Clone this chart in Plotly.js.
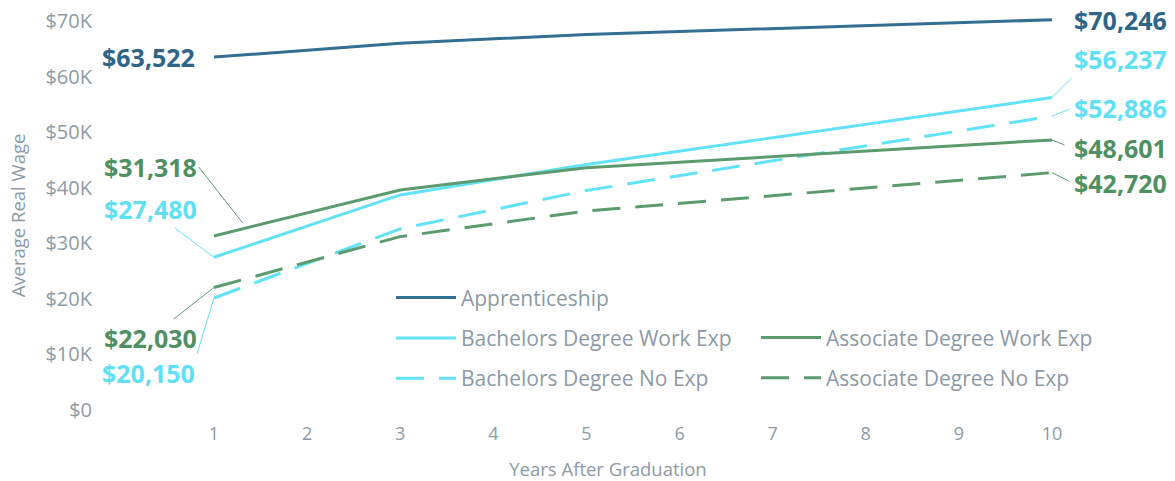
<!DOCTYPE html>
<html>
<head>
<meta charset="utf-8">
<script src="https://cdn.plot.ly/plotly-3.0.1.min.js"></script>
<style>html,body{margin:0;padding:0;background:#fff;}#chart{width:1175px;height:481px;}</style>
</head>
<body>
<div id="chart"></div>
<script>
// ---- data ----
const years = [1, 3, 5, 10];
const apprenticeship = [63522, 66000, 67600, 70246];
const bachelorsWorkExp = [27480, 38700, 44200, 56237];
const associateWorkExp = [31318, 39600, 43600, 48601];
const bachelorsNoExp = [20150, 32600, 39500, 52886];
const associateNoExp = [22030, 31200, 35800, 42720];
const xTicks = [1, 2, 3, 4, 5, 6, 7, 8, 9, 10];
const yTicks = [0, 10000, 20000, 30000, 40000, 50000, 60000, 70000];
const yTickLabels = ["$0", "$10K", "$20K", "$30K", "$40K", "$50K", "$60K", "$70K"];

const cApp = "#336e93", cApLbl = "#2e6488";
const cBach = "#62e2f6", cBachLbl = "#5fe0f5";
const cAssoc = "#5c9b6e", cAssocLbl = "#4f9063";
const gray = "#8d9aa4";
const FONT = "Open Sans, sans-serif";

function fmt(v) { return "$" + v.toLocaleString("en-US"); }
function interp(xs, ys, x) {
  for (let i = 0; i < xs.length - 1; i++) {
    if (x >= xs[i] && x <= xs[i + 1]) {
      const t = (x - xs[i]) / (xs[i + 1] - xs[i]);
      return ys[i] + t * (ys[i + 1] - ys[i]);
    }
  }
  return ys[ys.length - 1];
}
const last = a => a[a.length - 1];

const traces = [
  {x: years, y: apprenticeship, name: "Apprenticeship", mode: "lines", line: {color: cApp, width: 3}, legend: "legend", legendgroup: "a"},
  {x: years, y: bachelorsWorkExp, name: "Bachelors Degree Work Exp", mode: "lines", line: {color: cBach, width: 3}, legend: "legend", legendgroup: "b"},
  {x: years, y: bachelorsNoExp, name: "Bachelors Degree No Exp", mode: "lines", line: {color: cBach, width: 3, dash: "28px,15px"}, legend: "legend", legendgroup: "c"},
  {x: years, y: associateWorkExp, name: "Associate Degree Work Exp", mode: "lines", line: {color: cAssoc, width: 3}, legend: "legend2", legendgroup: "d"},
  {x: years, y: associateNoExp, name: "Associate Degree No Exp", mode: "lines", line: {color: cAssoc, width: 3, dash: "28px,15px"}, legend: "legend2", legendgroup: "e"}
];

const lblFont = (c) => ({family: FONT, size: 25, color: c, weight: 700});
const x0 = years[0], xN = last(years);
const annotations = [
  {x: x0, y: apprenticeship[0], text: fmt(apprenticeship[0]), showarrow: false, xanchor: "right", yanchor: "middle", xshift: -17, font: lblFont(cApLbl)},
  {x: xN, y: last(apprenticeship), text: fmt(last(apprenticeship)), showarrow: false, xanchor: "left", yanchor: "middle", xshift: 20, font: lblFont(cApLbl)},
  // left side leaders
  {x: 1.35, y: interp(years, associateWorkExp, 1.35), text: fmt(associateWorkExp[0]), showarrow: true, arrowhead: 0, arrowwidth: 1, arrowcolor: cAssoc, ax: -48, ay: -61, standoff: 6, xanchor: "right", yanchor: "middle", font: lblFont(cAssocLbl)},
  {x: x0, y: bachelorsWorkExp[0], text: fmt(bachelorsWorkExp[0]), showarrow: true, arrowhead: 0, arrowwidth: 1, arrowcolor: cBach, ax: -64, ay: -48, font: lblFont(cBachLbl)},
  {x: x0, y: associateNoExp[0], text: fmt(associateNoExp[0]), showarrow: true, arrowhead: 0, arrowwidth: 1, arrowcolor: cAssoc, ax: -64, ay: 50, font: lblFont(cAssocLbl)},
  {x: x0, y: bachelorsNoExp[0], text: fmt(bachelorsNoExp[0]), showarrow: true, arrowhead: 0, arrowwidth: 1, arrowcolor: cBach, ax: -17, ay: 56, xanchor: "right", yanchor: "top", font: lblFont(cBachLbl)},
  // right side leaders
  {x: xN, y: last(bachelorsWorkExp), text: fmt(last(bachelorsWorkExp)), showarrow: true, arrowhead: 0, arrowwidth: 1, arrowcolor: cBach, ax: 20, ay: -20, xanchor: "left", yanchor: "bottom", font: lblFont(cBachLbl)},
  {x: xN, y: last(bachelorsNoExp), text: fmt(last(bachelorsNoExp)), showarrow: true, arrowhead: 0, arrowwidth: 1, arrowcolor: cBach, ax: 20, ay: -8, xanchor: "left", yanchor: "middle", startstandoff: 3, font: lblFont(cBachLbl)},
  {x: xN, y: last(associateWorkExp), text: fmt(last(associateWorkExp)), showarrow: true, arrowhead: 0, arrowwidth: 1, arrowcolor: cAssoc, ax: 20, ay: 8, xanchor: "left", yanchor: "middle", startstandoff: 8, font: lblFont(cAssocLbl)},
  {x: xN, y: last(associateNoExp), text: fmt(last(associateNoExp)), showarrow: true, arrowhead: 0, arrowwidth: 1, arrowcolor: cAssoc, ax: 20, ay: 10, xanchor: "left", yanchor: "middle", startstandoff: 4, font: lblFont(cAssocLbl)}
];

const legendCommon = {
  orientation: "v", bgcolor: "rgba(0,0,0,0)", borderwidth: 0,
  font: {family: FONT, size: 21, color: gray},
  tracegroupgap: 10, itemwidth: 60, xanchor: "left", yanchor: "middle"
};

const layout = {
  width: 1175, height: 481,
  margin: {l: 93, r: 52, t: 10, b: 60},
  paper_bgcolor: "#fff", plot_bgcolor: "#fff",
  font: {family: FONT, color: gray},
  showlegend: true,
  xaxis: {
    range: [-0.2996, 10.763], tickvals: xTicks, ticktext: xTicks.map(String),
    showgrid: false, zeroline: false, showline: false, ticks: "",
    tickfont: {family: FONT, size: 18, color: gray},
    title: {text: "Years After Graduation", font: {family: FONT, size: 18.5, color: gray}, standoff: 19}
  },
  yaxis: {
    range: [-2000, 72000], tickvals: yTicks, ticktext: yTickLabels,
    showgrid: false, zeroline: false, showline: false, ticks: "",
    tickfont: {family: FONT, size: 20, color: gray},
    title: {text: "Average Real Wage", font: {family: FONT, size: 18.5, color: gray}, standoff: 14}
  },
  legend: Object.assign({}, legendCommon, {x: 0.2893, y: 0.2021}),
  legend2: Object.assign({}, legendCommon, {x: 0.6437, y: 0.1535}),
  annotations: annotations
};

Plotly.newPlot("chart", traces, layout, {displayModeBar: false, responsive: false});
</script>
</body>
</html>
